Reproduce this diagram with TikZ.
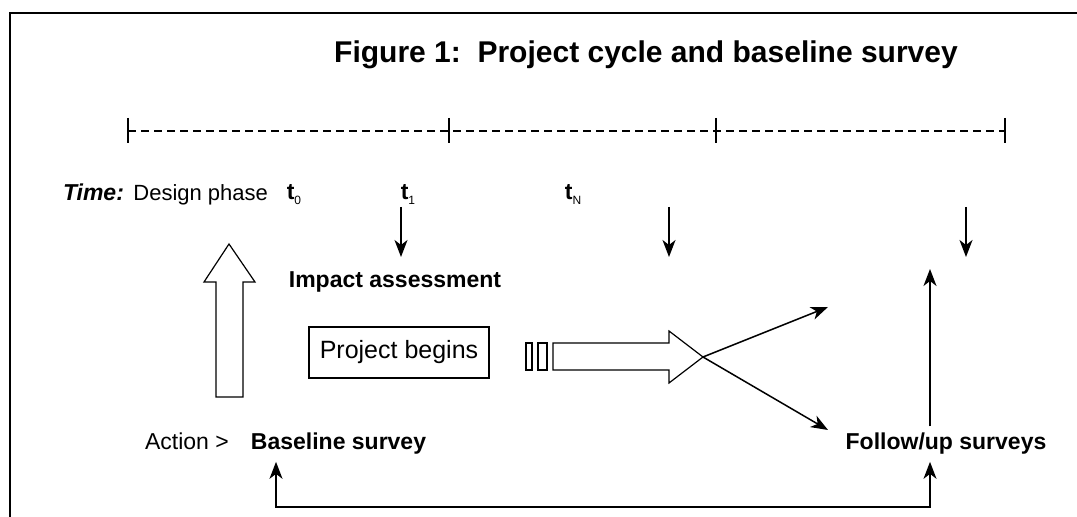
\documentclass[tikz,border=0pt]{standalone}
\usepackage{fontspec}
\setmainfont{Liberation Sans}
\usetikzlibrary{arrows.meta,positioning}

\newcommand{\tsub}[1]{\textbf{t}{\fontsize{6}{6}\selectfont\raisebox{-2.5pt}{#1}}}

\begin{document}
\begin{tikzpicture}[x=0.5pt, y=-0.5pt, font=\fontsize{11.5}{14}\selectfont,
  arr/.style={line width=0.75pt, -{Stealth[length=8.5pt, width=6.5pt, inset=2.5pt]}},
  hollow/.style={draw, line width=0.6pt, fill=white},
  tickmark/.style={line width=0.6pt}]
\useasboundingbox (0,0) rectangle (1077,517);

% Frame
\draw[line width=0.7pt] (10,517) -- (10,13) -- (1077,13);

% Title
\node[font=\fontsize{15}{18}\selectfont\bfseries] (title) at (646,55) {Figure 1:\ \ Project cycle and baseline survey};

% Timeline
\draw[line width=1.1pt, dash pattern=on 4pt off 2.5pt] (128,131) -- (1005,131);
\foreach \x in {128,449,716,1005} \draw[tickmark] (\x,118) -- (\x,143);

% Time labels
\node[anchor=base east, font=\fontsize{11}{14}\selectfont] (design) at (275,201) {Design phase};
\node[anchor=base east, inner sep=1pt, font=\fontsize{11.5}{14}\selectfont\bfseries\itshape] (time) at (design.base west) {Time:};
\node (t0) at (294,195) {\tsub{0}};
\node (t1) at (408,195) {\tsub{1}};
\node (tN) at (573,195) {\tsub{N}};

% Arrows down
\foreach \x [count=\i] in {401,669,966} {
  \coordinate (top\i) at (\x,207);
  \coordinate (bot\i) at (\x,257);
  \draw[arr] (top\i) -- (bot\i);
}

% Big arrow up
\draw[hollow] (216,397) -- (216,282) -- (204,282) -- (229,244) -- (255,282) -- (243,282) -- (243,397) -- cycle;

% Impact assessment and project
\node[font=\fontsize{11.5}{14}\selectfont\bfseries] (impact) at (395,282) {Impact assessment};
\node[draw, line width=0.6pt, minimum width=90pt, minimum height=25.5pt, font=\fontsize{12.5}{15}\selectfont] (begins) at (399,352.5) {Project begins};

% Big arrow right
\draw[hollow] (526,343) rectangle (532,370);
\draw[hollow] (538,343) rectangle (547,370);
\draw[hollow] (553,343) -- (669,343) -- (669,331) -- (703,357) -- (669,383) -- (669,370) -- (553,370) -- cycle;
\coordinate (tip) at (703,357);
\coordinate (upend) at (828,307);
\coordinate (downend) at (828,430);
\draw[arr] (tip) -- (upend);
\draw[arr] (tip) -- (downend);

% Surveys
\node[anchor=base west] (action) at (138,450) {Action >};
\node[anchor=base west, xshift=4pt, font=\fontsize{11.5}{14}\selectfont\bfseries] (baseline) at (action.base east) {Baseline survey};
\node[anchor=base, font=\fontsize{11.5}{14}\selectfont\bfseries] (follow) at (946,450) {Follow/up surveys};
\coordinate (fuup) at (930,269);
\draw[arr] (fuup |- follow.north) -- (fuup);

% Loop back
\coordinate (loopl) at (276,507);
\coordinate (loopr) at (930,507);
\draw[line width=0.75pt, {Stealth[length=8.5pt, width=6.5pt, inset=2.5pt]}-{Stealth[length=8.5pt, width=6.5pt, inset=2.5pt]}]
  (loopl |- baseline.south) -- (loopl) -- (loopr) -- (loopr |- follow.south);
\end{tikzpicture}
\end{document}
